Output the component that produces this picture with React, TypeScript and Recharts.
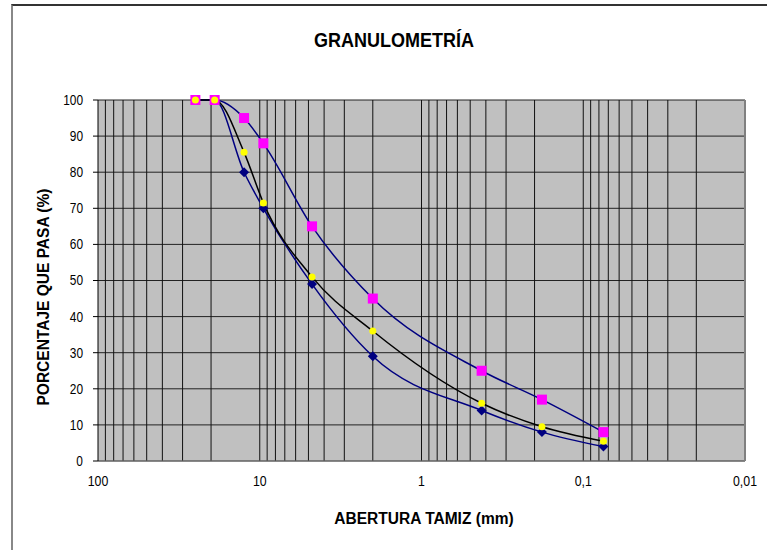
import { LineChart, Line, XAxis, YAxis, CartesianGrid, ReferenceLine } from 'recharts';

// Abertura de tamices (mm)
const sieves = [25, 19, 12.5, 9.5, 4.75, 2, 0.425, 0.18, 0.075];
const upperLimit = [100, 100, 95, 88, 65, 45, 25, 17, 8];
const lowerLimit = [100, 100, 80, 70, 49, 29, 14, 8, 4];
const sample = [100, 100, 85.5, 71.5, 51, 36, 16, 9.5, 5.5];

const xTicks = [100, 10, 1, 0.1, 0.01];
const yTicks = [0, 10, 20, 30, 40, 50, 60, 70, 80, 90, 100];
const decades = [0.01, 0.1, 1, 10];
const multipliers = [1, 2, 3, 4, 5, 6, 7, 8, 9];

const gridX = decades.flatMap(d => multipliers.map(m => +(d * m).toPrecision(3)));

const data = sieves.map((s, i) => ({
  tamiz: s,
  sup: upperLimit[i],
  inf: lowerLimit[i],
  muestra: sample[i],
}));

const font = '"Liberation Sans", Arial, sans-serif';

const fmtX = (v: number) => String(v).replace('.', ',');

const Square = (props: any) => {
  const { cx, cy } = props;
  if (cx == null || cy == null) return null;
  return <rect x={cx - 5} y={cy - 5} width={10} height={10} fill="#FF00FF" />;
};

const Diamond = (props: any) => {
  const { cx, cy } = props;
  if (cx == null || cy == null) return null;
  return <path d={`M${cx},${cy - 5}L${cx + 5},${cy}L${cx},${cy + 5}L${cx - 5},${cy}Z`} fill="#000080" />;
};

const Dot = (props: any) => {
  const { cx, cy } = props;
  if (cx == null || cy == null) return null;
  return <circle cx={cx} cy={cy} r={3.5} fill="#FFFF00" />;
};

// narrow-looking tick text, like the original
const XTick = (props: any) => {
  const { x, y, payload } = props;
  return (
    <text transform={`translate(${x},${y}) scale(0.88,1)`} textAnchor="middle" dy="0.71em" fontSize={14} fontFamily={font} fill="#000">
      {fmtX(payload.value)}
    </text>
  );
};

const YTick = (props: any) => {
  const { x, y, payload } = props;
  return (
    <text transform={`translate(${x},${y}) scale(0.85,1)`} textAnchor="end" dy="0.355em" fontSize={14} fontFamily={font} fill="#000">
      {payload.value}
    </text>
  );
};

export default function App() {
  return (
    <div style={{ position: 'absolute', left: 0, top: 0, width: 767, height: 550, background: '#fff', fontFamily: font, overflow: 'hidden' }}>
      <div style={{ position: 'absolute', left: 11, top: 4, width: 770, height: 560, borderLeft: '2px solid #888', borderTop: '2px solid #333' }} />
      <div style={{ position: 'absolute', left: 394, top: 40, width: 0, height: 0 }}>
        <div style={{ position: 'absolute', transform: 'translate(-50%, -50%) scale(0.9,1)', whiteSpace: 'nowrap', fontSize: 20, fontWeight: 'bold' }}>
          GRANULOMETRÍA
        </div>
      </div>
      <div style={{ position: 'absolute', left: 424, top: 519, width: 0, height: 0 }}>
        <div style={{ position: 'absolute', transform: 'translate(-50%, -50%) scale(0.97,1)', whiteSpace: 'nowrap', fontSize: 16, fontWeight: 'bold' }}>
          ABERTURA TAMIZ (mm)
        </div>
      </div>
      <div style={{ position: 'absolute', left: 44, top: 297, width: 0, height: 0 }}>
        <div style={{ position: 'absolute', transform: 'translate(-50%, -50%) rotate(-90deg) scale(0.97,1)', whiteSpace: 'nowrap', fontSize: 16, fontWeight: 'bold' }}>
          PORCENTAJE QUE PASA (%)
        </div>
      </div>
      <div style={{ position: 'absolute', left: 0, top: 0 }}>
        <LineChart width={767} height={550} data={data} margin={{ top: 100, right: 22, bottom: 59, left: 38 }}>
          <CartesianGrid fill="#C0C0C0" stroke="#222" strokeOpacity={1} vertical={false} />
          {gridX.map(v => (
            <ReferenceLine key={v} x={v} stroke="#111" strokeWidth={1} ifOverflow="hidden" />
          ))}
          <XAxis
            dataKey="tamiz"
            type="number"
            scale="log"
            domain={[0.01, 100]}
            reversed
            ticks={xTicks}
            allowDataOverflow
            height={30}
            tickLine={false}
            axisLine={{ stroke: '#808080' }}
            tickMargin={9}
            tick={<XTick />}
          />
          <YAxis
            type="number"
            domain={[0, 100]}
            ticks={yTicks}
            width={60}
            tickSize={5}
            tickMargin={10}
            axisLine={{ stroke: '#000' }}
            tickLine={{ stroke: '#000' }}
            tick={<YTick />}
          />
          <ReferenceLine x={0.01} stroke="#808080" strokeWidth={2} />
          <Line type="monotone" dataKey="inf" stroke="#000080" strokeWidth={1.5} dot={<Diamond />} isAnimationActive={false} />
          <Line type="monotone" dataKey="sup" stroke="#000080" strokeWidth={1.5} dot={<Square />} isAnimationActive={false} />
          <Line type="monotone" dataKey="muestra" stroke="#000" strokeWidth={1.5} dot={<Dot />} isAnimationActive={false} />
        </LineChart>
      </div>
    </div>
  );
}
